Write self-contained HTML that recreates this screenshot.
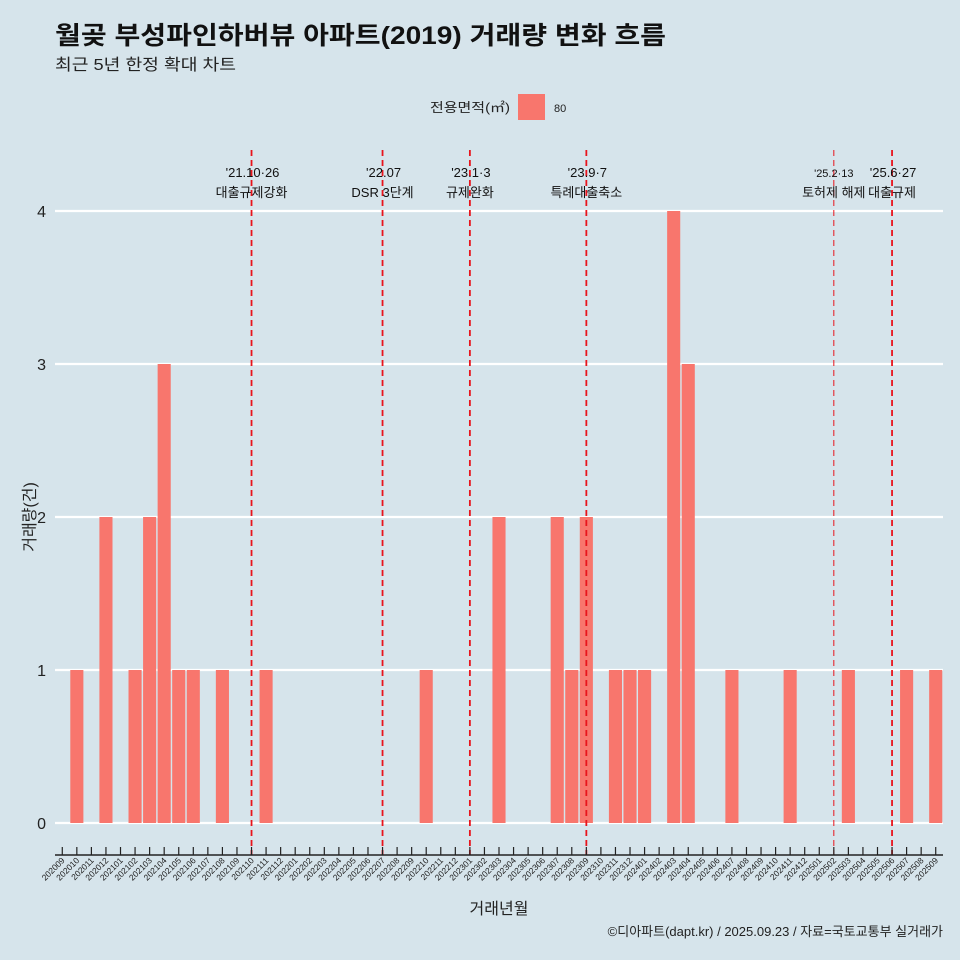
<!DOCTYPE html>
<html><head><meta charset="utf-8"><style>
body{margin:0;background:#d6e4eb;}
svg{display:block;font-family:"Liberation Sans","Noto Sans CJK KR",sans-serif;}
</style></head><body>
<svg id="c" width="960" height="960">
<rect width="960" height="960" fill="#d6e4eb"/>
<text x="55" y="44" font-size="25" font-weight="bold" fill="#111" textLength="611" lengthAdjust="spacingAndGlyphs">월곶 부성파인하버뷰 아파트(2019) 거래량 변화 흐름</text>
<text x="55" y="70" font-size="16" fill="#222" textLength="181" lengthAdjust="spacingAndGlyphs">최근 5년 한정 확대 차트</text>
<g>
<text x="430" y="112" font-size="13" fill="#222" textLength="80" lengthAdjust="spacingAndGlyphs">전용면적(㎡)</text>
<rect x="518" y="94" width="27" height="26" fill="#f8766d"/>
<text x="554" y="112" font-size="11" fill="#222">80</text>
</g>
<text transform="translate(35,517) rotate(-90)" text-anchor="middle" font-size="16" fill="#222">거래량(건)</text>
<text x="499" y="914" text-anchor="middle" font-size="16" fill="#222">거래년월</text>
<text x="943" y="936" text-anchor="end" font-size="13" fill="#222">©디아파트(dapt.kr) / 2025.09.23 / 자료=국토교통부 실거래가</text>
<g id="grid"></g><g id="bars"></g><g id="events"></g><g id="xaxis"></g>
</svg>
<script>
const categories=[];for(let y=2020,m=9;y*100+m<=202509;){categories.push(String(y*100+m));m++;if(m>12){m=1;y++;}}
const valueMonths=["202010","202012","202102","202103","202104","202105","202106","202108","202111","202210","202303","202307","202308","202309","202311","202312","202401","202403","202404","202407","202411","202503","202507","202509"];
const valueCounts=[1,2,1,2,3,1,1,1,1,1,2,2,1,2,1,1,1,4,3,1,1,1,1,1];
const yTicks=[0,1,2,3,4];
const eventMonths=["202110","202207","202301","202309","202502","202506"];
const eventDates=["'21.10·26","'22.07","'23.1·3","'23.9·7","'25.2·13","'25.6·27"];
const eventLabels=["대출규제강화","DSR 3단계","규제완화","특례대출축소","토허제 해제","대출규제"];
const NS="http://www.w3.org/2000/svg";
const X0=55,X1=943,band=(X1-X0)/categories.length;
const xc=c=>X0+band*(categories.indexOf(c)+0.5);
const yv=v=>823-v*153;
function mk(t,a,p){const e=document.createElementNS(NS,t);for(const k in a)e.setAttribute(k,a[k]);p.appendChild(e);return e;}
const grid=document.getElementById('grid');
yTicks.forEach(v=>{
 const l=mk('line',{x1:X0,x2:X1,y1:yv(v),y2:yv(v),stroke:'#fff','stroke-width':2.2},grid);
 
 
 const t=mk('text',{x:46,y:yv(v)+6,'text-anchor':'end','font-size':16,fill:'#222'},grid);t.textContent=v;
 
 
});
const bars=document.getElementById('bars');
valueMonths.forEach((m,i)=>{
 const x=xc(m),v=valueCounts[i];
 const r=mk('rect',{x:x-band*0.45,y:yv(v),width:band*0.9,height:yv(0)-yv(v),fill:'#f8766d'},bars);
 
 
});
const ev=document.getElementById('events');
eventMonths.forEach((m,i)=>{
 const x=xc(m);const thin=m==="202502";
 const l=mk('line',{x1:x,x2:x,y1:150,y2:855,stroke:'#e8141c','stroke-width':thin?1:1.8,'stroke-dasharray':'6,4'},ev);
 
 
 const small=thin?11:13;
 const t1=mk('text',{x:x+(thin?0:1),y:177,'text-anchor':'middle','font-size':small,fill:'#111'},ev);t1.textContent=eventDates[i];
 
 
 const t2=mk('text',{x:x,y:197,'text-anchor':'middle','font-size':13,fill:'#111'},ev);t2.textContent=eventLabels[i];
 
 
});
const xa=document.getElementById('xaxis');
const ax=mk('line',{x1:X0,x2:X1,y1:855,y2:855,stroke:'#222','stroke-width':1.5},xa);


categories.forEach(c=>{
 const x=xc(c);
 mk('line',{x1:x,x2:x,y1:847,y2:855,stroke:'#222','stroke-width':1.2},xa);
 const t=mk('text',{transform:`translate(${x+3},${861}) rotate(-45)`,'text-anchor':'end','font-size':8.5,fill:'#222'},xa);t.textContent=c;
 
 
});
</script>
</body></html>
